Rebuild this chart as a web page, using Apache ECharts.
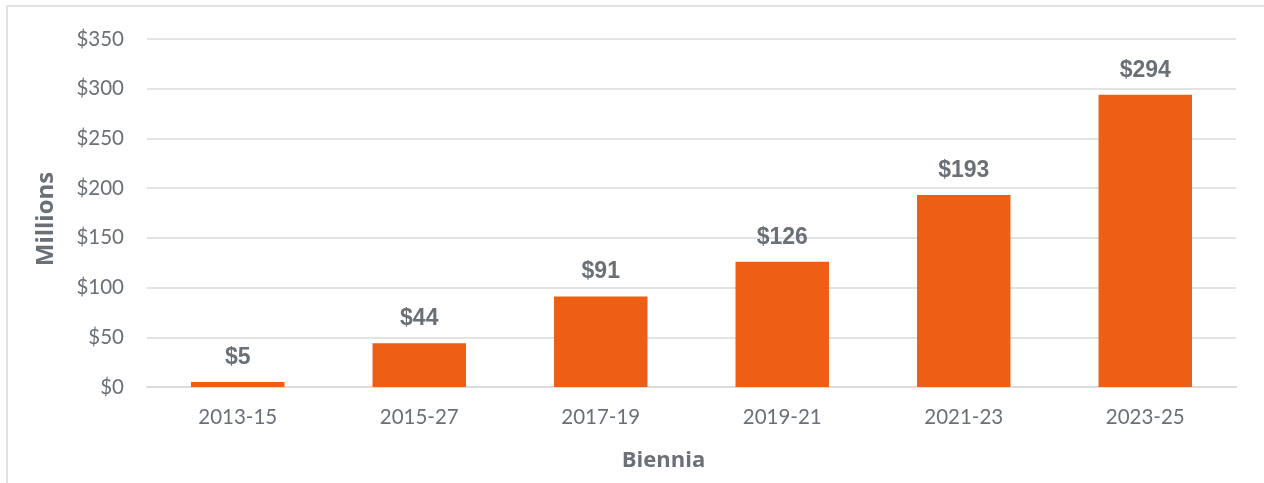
<!DOCTYPE html>
<html>
<head>
<meta charset="utf-8">
<script src="https://cdn.jsdelivr.net/npm/echarts@6/dist/echarts.min.js"></script>
<style>
  html, body { margin: 0; padding: 0; background: #fff; }
  #frame {
    position: absolute; left: 6px; top: 5px; width: 1300px; height: 500px;
    border-left: 2px solid #e2e2e2; border-top: 2px solid #e2e2e2;
  }
  #chart { position: absolute; left: 0; top: 0; width: 1264px; height: 483px; }
</style>
</head>
<body>
<div id="frame"></div>
<div id="chart"></div>
<script>
const categories = ['2013-15', '2015-27', '2017-19', '2019-21', '2021-23', '2023-25'];
const values = [5, 44, 91, 126, 193, 294];
const yTicks = [0, 50, 100, 150, 200, 250, 300, 350];

const chart = echarts.init(document.getElementById('chart'));
chart.setOption({
  animation: false,
  grid: { left: 147, right: 28, top: 39, bottom: 96 },
  xAxis: {
    type: 'category',
    data: categories,
    name: 'Biennia',
    nameLocation: 'middle',
    nameGap: 63,
    nameTextStyle: {
      fontFamily: 'Open Sans', fontWeight: 'bold', fontSize: 22, color: '#6b7077',
      padding: [0, 56, 0, 0]
    },
    axisLine: { lineStyle: { color: '#dcdcdc', width: 2 } },
    axisTick: { show: false },
    axisLabel: { fontFamily: 'Lato', fontSize: 20.5, color: '#6b7077', margin: 20 }
  },
  yAxis: {
    type: 'value',
    min: yTicks[0],
    max: yTicks[yTicks.length - 1],
    interval: 50,
    name: 'Millions',
    nameLocation: 'middle',
    nameGap: 89,
    nameTextStyle: {
      fontFamily: 'Open Sans', fontWeight: 'bold', fontSize: 24, color: '#6b7077',
      padding: [0, 12, 0, 0]
    },
    axisLine: { show: false },
    axisTick: { show: false },
    splitLine: { lineStyle: { color: '#e3e3e3', width: 2 } },
    axisLabel: {
      fontFamily: 'Lato', fontSize: 20.5, color: '#6b7077', margin: 23,
      formatter: v => '$' + v
    }
  },
  series: [{
    type: 'bar',
    data: values,
    barWidth: '51.5%',
    itemStyle: { color: '#ec5f15' },
    label: {
      show: true,
      position: 'top',
      distance: 13,
      formatter: p => '$' + p.value,
      fontFamily: 'Liberation Sans',
      fontWeight: 'bold',
      fontSize: 23,
      color: '#6b7077'
    }
  }]
});
</script>
</body>
</html>
